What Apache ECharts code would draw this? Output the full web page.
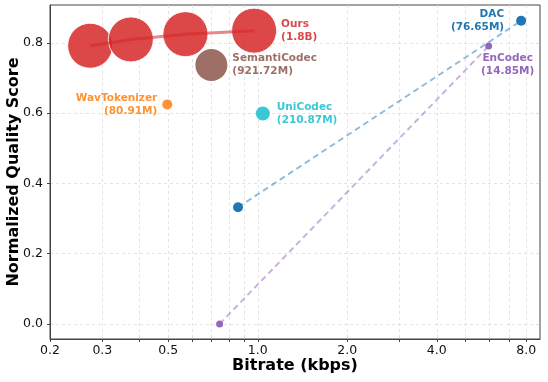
<!DOCTYPE html>
<html>
<head>
<meta charset="utf-8">
<script src="https://cdn.jsdelivr.net/npm/echarts@6/dist/echarts.min.js"></script>
<style>
  html, body { margin: 0; padding: 0; background: #fff; }
  #chart { width: 548px; height: 382px; }
</style>
</head>
<body>
<div id="chart"></div>
<script>
// values (bitrate in kbps, score normalized)
const oursBitrate = [0.273, 0.374, 0.571, 0.972]
const oursScore = [0.792, 0.810, 0.825, 0.835]
const semantiBitrate = [0.698]
const semantiScore = [0.737]
const wavBitrate = [0.496]
const wavScore = [0.625]
const uniBitrate = [1.04]
const uniScore = [0.599]
const dacBitrate = [0.858, 7.69]
const dacScore = [0.332, 0.863]
const encodecBitrate = [0.744, 5.98]
const encodecScore = [0.0, 0.791]

const modelNames = ['Ours', 'SemantiCodec', 'WavTokenizer', 'UniCodec', 'DAC', 'EnCodec']
const modelParams = ['1.8B', '921.72M', '80.91M', '210.87M', '76.65M', '14.85M']

const bitrateTicks = [0.2, 0.3, 0.5, 1, 2, 4, 8]
const bitrateMinor = [0.4, 0.6, 0.7, 0.8, 0.9, 3, 5, 6, 7]
const scoreTicks = [0, 0.2, 0.4, 0.6, 0.8]

const font = 'DejaVu Sans'
const lg = v => Math.log2(v)

function pts(xs, ys) {
    return xs.map((x, i) => [lg(x), ys[i]])
}

function tag(idx, color, pos) {
    return Object.assign({
        show: true,
        formatter: modelNames[idx] + '\n(' + modelParams[idx] + ')',
        color: color,
        fontFamily: font,
        fontWeight: 'bold',
        fontSize: 10.5,
        lineHeight: 13,
    }, pos)
}

// put the label only on the point at index `at`
function withLabel(data, at, label) {
    return data.map((p, i) => i === at ? { value: p, label: label } : p)
}

const chart = echarts.init(document.getElementById('chart'))

const option = {
    animation: false,
    backgroundColor: '#fff',
    grid: {
        left: 50, right: 8, top: 5, bottom: 43,
        show: true, borderColor: '#444', borderWidth: 1,
        outerBoundsMode: 'none',
    },
    xAxis: {
        type: 'value',
        min: lg(0.2),
        max: lg(8.9),
        name: 'Bitrate (kbps)',
        nameLocation: 'middle',
        nameGap: 19,
        nameMoveOverlap: false,
        nameTextStyle: { fontFamily: font, fontSize: 16, fontWeight: 'bold', color: '#000' },
        axisLine: { show: true, onZero: false, lineStyle: { color: '#444', width: 1 } },
        axisTick: {
            show: true, length: 3,
            customValues: bitrateTicks.concat(bitrateMinor).map(lg),
            lineStyle: { color: '#444' },
        },
        axisLabel: {
            customValues: bitrateTicks.map(lg),
            formatter: v => Math.pow(2, v).toFixed(1),
            fontFamily: font, fontSize: 12.5, color: '#111', margin: 5,
        },
        splitLine: { show: true, lineStyle: { type: [3, 3], color: '#dcdcdc', width: 0.8 } },
    },
    yAxis: {
        type: 'value',
        min: -0.043,
        max: 0.908,
        name: 'Normalized Quality Score',
        nameLocation: 'middle',
        nameGap: 28,
        nameMoveOverlap: false,
        nameTextStyle: { fontFamily: font, fontSize: 16, fontWeight: 'bold', color: '#000' },
        axisLine: { show: true, onZero: false, lineStyle: { color: '#444', width: 1 } },
        axisTick: { show: true, length: 3, customValues: scoreTicks, lineStyle: { color: '#444' } },
        axisLabel: {
            customValues: scoreTicks,
            formatter: v => v.toFixed(1),
            fontFamily: font, fontSize: 12.5, color: '#111', margin: 7,
        },
        splitLine: { show: true, lineStyle: { type: [3, 3], color: '#dcdcdc', width: 0.8 } },
    },
    series: [
        {
            type: 'line',
            data: withLabel(pts(dacBitrate, dacScore), 1,
                tag(4, '#1f77b4', { position: 'left', distance: 12 })),
            symbol: 'circle', symbolSize: 10,
            itemStyle: { color: '#1f77b4' },
            lineStyle: { color: '#1f77b4', opacity: 0.5, width: 2, type: [6, 4] },
            z: 2,
        },
        {
            type: 'line',
            data: withLabel(pts(encodecBitrate, encodecScore), 1,
                tag(5, '#9467bd', { position: 'bottom', distance: 2, offset: [19, 0], align: 'center' })),
            symbol: 'circle', symbolSize: 7,
            itemStyle: { color: '#9467bd' },
            lineStyle: { color: '#9467bd', opacity: 0.5, width: 2, type: [6, 4] },
            z: 2,
        },
        {
            type: 'scatter',
            data: withLabel(pts(wavBitrate, wavScore), 0,
                tag(2, '#ff7f0e', { position: 'left', distance: 5, align: 'right' })),
            symbolSize: 10,
            itemStyle: { color: '#ff7f0e', opacity: 0.85 },
            z: 3,
        },
        {
            type: 'scatter',
            data: withLabel(pts(uniBitrate, uniScore), 0,
                tag(3, '#17becf', { position: 'right', distance: 7 })),
            symbolSize: 14,
            itemStyle: { color: '#17becf', opacity: 0.85 },
            z: 3,
        },
        {
            type: 'scatter',
            data: withLabel(pts(semantiBitrate, semantiScore), 0,
                tag(1, '#8c564b', { position: 'right', distance: 5 })),
            symbolSize: 32,
            itemStyle: { color: '#8c564b', opacity: 0.85 },
            z: 3,
        },
        {
            type: 'scatter',
            data: withLabel(pts(oursBitrate, oursScore), oursBitrate.length - 1,
                tag(0, '#d62728', { position: 'right', distance: 4 })),
            symbolSize: 45,
            itemStyle: { color: '#d62728', opacity: 0.85, borderColor: '#fff', borderWidth: 1 },
            z: 3,
        },
        {
            type: 'line',
            data: pts(oursBitrate, oursScore),
            symbol: 'none',
            lineStyle: { color: '#d62728', opacity: 0.55, width: 3 },
            z: 5,
        },
    ],
}

chart.setOption(option)
</script>
</body>
</html>
